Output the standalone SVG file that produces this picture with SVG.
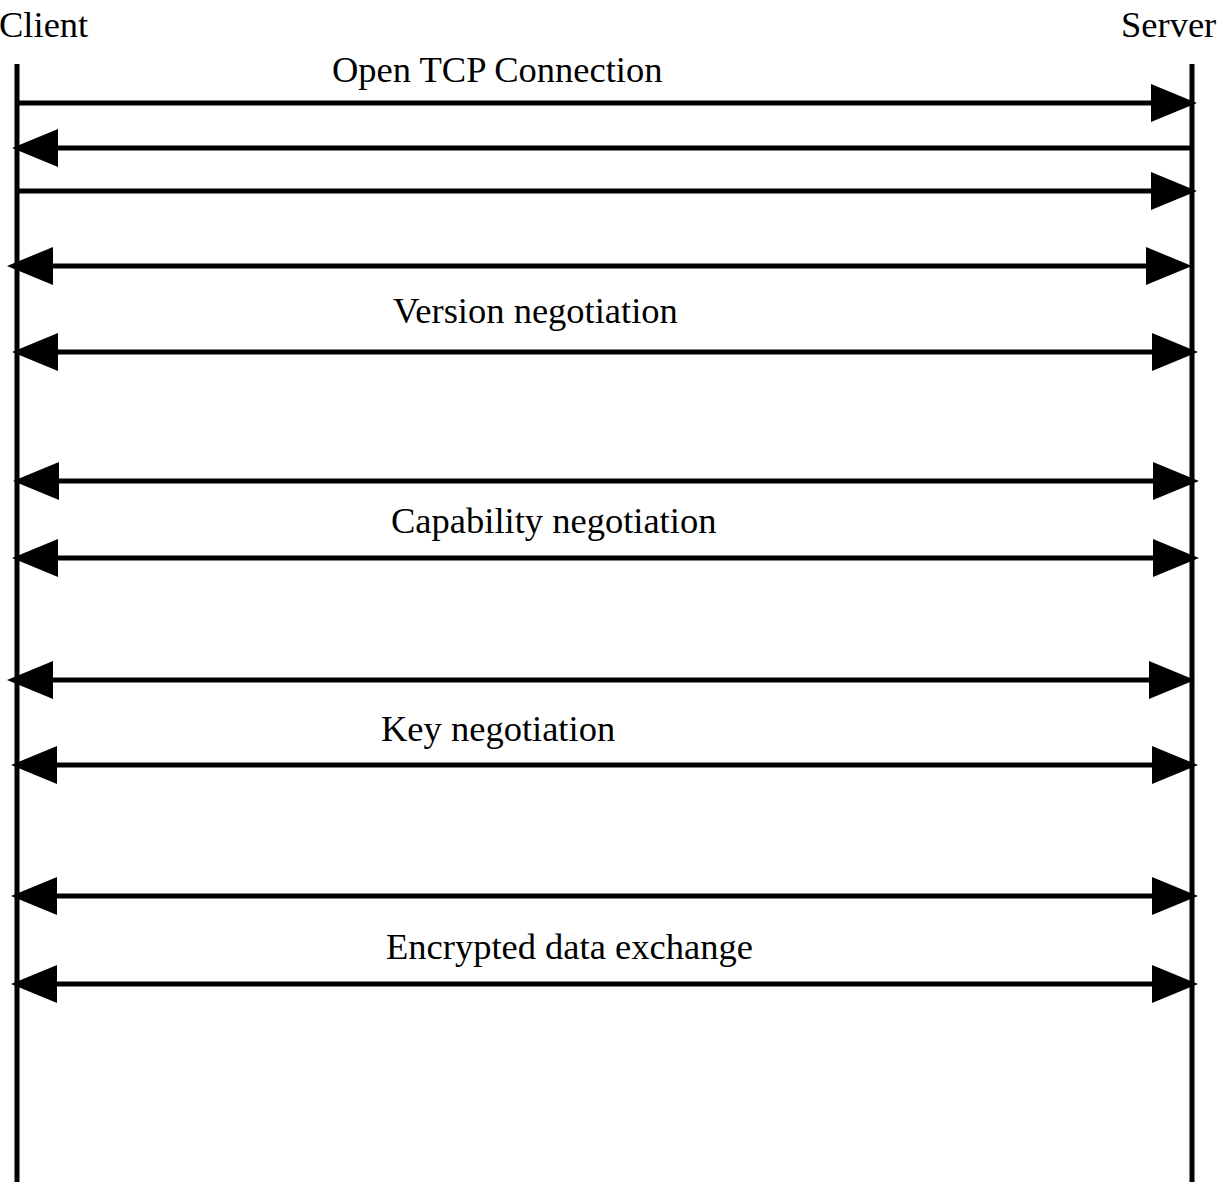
<svg xmlns="http://www.w3.org/2000/svg" xmlns:xlink="http://www.w3.org/1999/xlink" width="1221" height="1182" viewBox="0 0 1221 1182">
  <style>
    .lbl { font-family: "Liberation Serif", "Times New Roman", serif; font-size: 36.5px; fill: #000; }
    .life { stroke: #000; stroke-width: 5; fill: none; }
    .msg { stroke: #000; stroke-width: 5; fill: none; }
    .head { fill: #000; stroke: none; }
  </style>
  <defs>
    <path id="hr" class="head" d="M0,0 L-46,-19 L-46,19 Z"/>
    <path id="hl" class="head" d="M0,0 L46,-19 L46,19 Z"/>
  </defs>
  <rect width="1221" height="1182" fill="#fff"/>

  <g id="client">
    <text class="lbl" x="-1" y="37">Client</text>
    <line class="life" x1="17" y1="64" x2="17" y2="1182"/>
  </g>
  <g id="server">
    <text class="lbl" x="1121" y="37">Server</text>
    <line class="life" x1="1192" y1="64" x2="1192" y2="1182"/>
  </g>

  <g id="labels">
    <text class="lbl" x="332" y="82">Open TCP Connection</text>
    <text class="lbl" x="393" y="323">Version negotiation</text>
    <text class="lbl" x="391" y="533">Capability negotiation</text>
    <text class="lbl" x="381" y="741">Key negotiation</text>
    <text class="lbl" x="386" y="959">Encrypted data exchange</text>
  </g>

  <g id="connectors">
    <line class="msg" x1="17" y1="103" x2="1180" y2="103"/>
    <use xlink:href="#hr" x="1197" y="103"/>

    <line class="msg" x1="30" y1="148" x2="1192" y2="148"/>
    <use xlink:href="#hl" x="12" y="148"/>

    <line class="msg" x1="17" y1="191" x2="1180" y2="191"/>
    <use xlink:href="#hr" x="1197" y="191"/>

    <line class="msg" x1="30" y1="266" x2="1180" y2="266"/>
    <use xlink:href="#hl" x="7" y="266"/>
    <use xlink:href="#hr" x="1192" y="266"/>

    <line class="msg" x1="30" y1="352" x2="1180" y2="352"/>
    <use xlink:href="#hl" x="12" y="352"/>
    <use xlink:href="#hr" x="1198" y="352"/>

    <line class="msg" x1="30" y1="481" x2="1180" y2="481"/>
    <use xlink:href="#hl" x="13" y="481"/>
    <use xlink:href="#hr" x="1199" y="481"/>

    <line class="msg" x1="30" y1="558" x2="1180" y2="558"/>
    <use xlink:href="#hl" x="12" y="558"/>
    <use xlink:href="#hr" x="1199" y="558"/>

    <line class="msg" x1="30" y1="680" x2="1180" y2="680"/>
    <use xlink:href="#hl" x="7" y="680"/>
    <use xlink:href="#hr" x="1195" y="680"/>

    <line class="msg" x1="30" y1="765" x2="1180" y2="765"/>
    <use xlink:href="#hl" x="11" y="765"/>
    <use xlink:href="#hr" x="1198" y="765"/>

    <line class="msg" x1="30" y1="896" x2="1180" y2="896"/>
    <use xlink:href="#hl" x="11" y="896"/>
    <use xlink:href="#hr" x="1198" y="896"/>

    <line class="msg" x1="30" y1="984" x2="1180" y2="984"/>
    <use xlink:href="#hl" x="11" y="984"/>
    <use xlink:href="#hr" x="1198" y="984"/>
  </g>
</svg>
